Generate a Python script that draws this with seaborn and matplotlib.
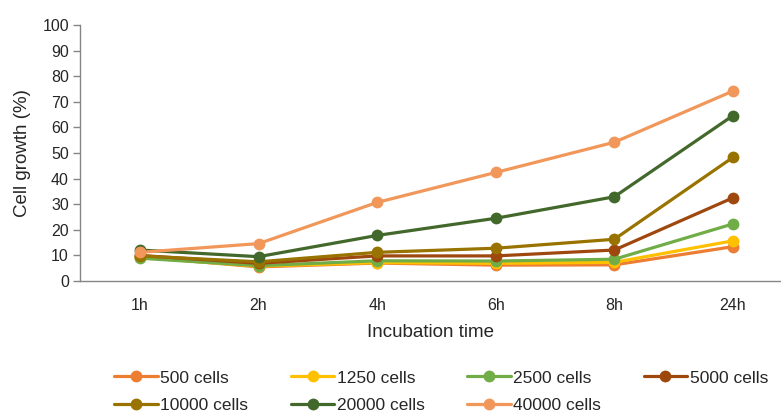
import matplotlib
matplotlib.use("Agg")
import matplotlib.pyplot as plt
import seaborn as sns
import pandas as pd

# Incubation time points and cell growth (%) per seeding density
times = ["1h", "2h", "4h", "6h", "8h", "24h"]
cells_500 = [9.5, 5.5, 7.0, 6.2, 6.3, 13.4]
cells_1250 = [9.2, 5.8, 7.2, 6.9, 7.3, 15.7]
cells_2500 = [8.9, 6.0, 7.9, 7.8, 8.5, 22.3]
cells_5000 = [10.0, 6.9, 9.8, 9.8, 12.1, 32.5]
cells_10000 = [9.8, 7.5, 11.2, 12.8, 16.3, 48.3]
cells_20000 = [12.1, 9.5, 17.8, 24.5, 32.9, 64.6]
cells_40000 = [11.2, 14.6, 30.7, 42.4, 54.2, 74.2]

series_names = ["500 cells", "1250 cells", "2500 cells", "5000 cells",
                "10000 cells", "20000 cells", "40000 cells"]
series_values = [cells_500, cells_1250, cells_2500, cells_5000,
                 cells_10000, cells_20000, cells_40000]
colors = ["#ED7D31", "#FFC000", "#70AD47", "#9E480E",
          "#997300", "#43682B", "#F1975A"]

rows = []
for name, vals in zip(series_names, series_values):
    for t, v in zip(times, vals):
        rows.append({"time": t, "growth": v, "density": name})
df = pd.DataFrame(rows)

sns.set_theme(style="white")
plt.rcParams["font.family"] = ["Liberation Sans", "DejaVu Sans"]
text_color = "#262626"
axis_color = "#868686"

fig = plt.figure(figsize=(7.81, 4.12), dpi=100)
ax = fig.add_axes([80 / 781, 1 - 281 / 412, 701 / 781, 256 / 412])

sns.lineplot(data=df, x="time", y="growth", hue="density",
             hue_order=series_names, palette=colors, marker="o",
             markersize=8.5, markeredgewidth=0, linewidth=2.3,
             sort=False, ax=ax)

ax.set_xlim(-0.505, 5.405)
ax.set_ylim(0, 100)
ax.set_yticks(range(0, 101, 10))
ax.set_xticks(range(len(times)))
ax.set_xticklabels(times)

for side in ["top", "right"]:
    ax.spines[side].set_visible(False)
for side in ["left", "bottom"]:
    ax.spines[side].set_color(axis_color)
    ax.spines[side].set_linewidth(1.0)

ax.tick_params(axis="y", which="both", left=True, length=5, width=1,
               color=axis_color, labelsize=11.5, labelcolor=text_color, pad=3)
ax.tick_params(axis="x", bottom=False, labelsize=11.5,
               labelcolor=text_color, pad=6)

ax.set_xlabel("Incubation time", fontsize=13.5, color=text_color, labelpad=8)
ax.set_ylabel("Cell growth (%)", fontsize=13.5, color=text_color, labelpad=8)

# Legend filled row by row: 4 entries on the first row, 3 on the second
handles, labels = ax.get_legend_handles_labels()
ax.get_legend().remove()
order = [0, 4, 1, 5, 2, 6, 3]
fig.legend([handles[i] for i in order], [labels[i] for i in order],
           loc="lower center", ncol=4,
           bbox_to_anchor=(0.565, -0.04), frameon=False, fontsize=12.5,
           handlelength=2.5, handletextpad=0.15, columnspacing=2.45,
           labelspacing=0.7, labelcolor=text_color)

fig.savefig("out.png", dpi=100)
